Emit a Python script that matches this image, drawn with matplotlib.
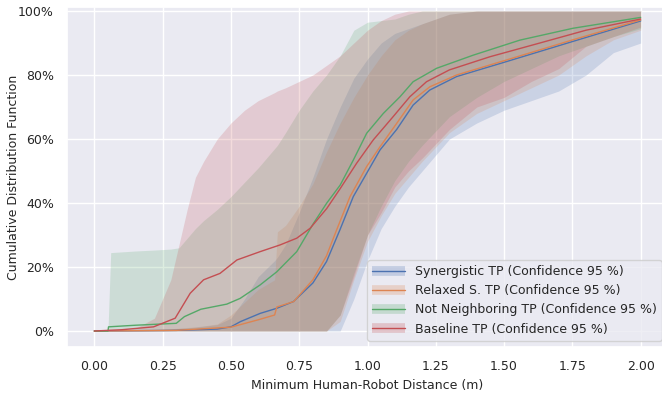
import numpy as np
import matplotlib
matplotlib.use("Agg")
import matplotlib.pyplot as plt
import seaborn as sns
from matplotlib.lines import Line2D
from matplotlib.ticker import PercentFormatter


# mean CDF curves per planner
syn_x = [0, 0.3, 0.45, 0.5, 0.534, 0.607, 0.668, 0.729, 0.8, 0.85, 0.899, 0.948, 0.997,
         1.046, 1.107, 1.167, 1.228, 1.326, 1.509, 1.752, 2.0]
syn_y = [0, 0.002, 0.006, 0.013, 0.029, 0.055, 0.071, 0.092, 0.15, 0.217, 0.316, 0.42, 0.493,
         0.566, 0.63, 0.706, 0.753, 0.795, 0.842, 0.905, 0.969]

rel_x = [0, 0.3, 0.5, 0.6, 0.66, 0.668, 0.73, 0.8, 0.85, 0.887, 0.936, 0.997,
         1.046, 1.107, 1.167, 1.228, 1.326, 1.509, 1.752, 2.0]
rel_y = [0, 0.002, 0.012, 0.035, 0.05, 0.075, 0.092, 0.16, 0.235, 0.316, 0.42, 0.514,
         0.576, 0.649, 0.722, 0.763, 0.80, 0.847, 0.91, 0.972]

nn_x = [0, 0.05, 0.052, 0.15, 0.3, 0.33, 0.39, 0.485, 0.534, 0.607, 0.668, 0.741, 0.802,
        0.851, 0.9, 0.948, 0.997, 1.058, 1.119, 1.167, 1.253, 1.387, 1.558, 1.752, 2.0]
nn_y = [0, 0, 0.013, 0.018, 0.024, 0.045, 0.068, 0.084, 0.102, 0.144, 0.185, 0.248, 0.336,
        0.4, 0.456, 0.534, 0.618, 0.68, 0.732, 0.779, 0.821, 0.862, 0.909, 0.946, 0.98]

base_x = [0, 0.1, 0.217, 0.296, 0.351, 0.40, 0.46, 0.522, 0.607, 0.68, 0.741, 0.79, 0.851,
          0.9, 0.96, 1.021, 1.094, 1.155, 1.216, 1.30, 1.448, 1.631, 1.80, 2.0]
base_y = [0, 0.004, 0.013, 0.04, 0.118, 0.16, 0.18, 0.222, 0.248, 0.269, 0.29, 0.321, 0.383,
          0.445, 0.524, 0.597, 0.67, 0.732, 0.779, 0.816, 0.857, 0.90, 0.94, 0.975]

# 95 % confidence bands, sampled on a shared distance grid
band_x = [0.0, 0.05, 0.06, 0.15, 0.22, 0.28, 0.31, 0.34, 0.37, 0.4, 0.45, 0.5, 0.55, 0.6,
          0.66, 0.67, 0.7, 0.75, 0.8, 0.85, 0.9, 0.95, 1.0, 1.05, 1.1, 1.15, 1.2, 1.3,
          1.4, 1.5, 1.6, 1.7, 1.8, 1.9, 2.0]

syn_lo = [0] * 21 + [0.1, 0.22, 0.32, 0.39, 0.45, 0.5, 0.6, 0.65, 0.69, 0.72, 0.75, 0.8, 0.87, 0.9]
syn_hi = [0, 0, 0, 0.002, 0.004, 0.006, 0.008, 0.01, 0.012, 0.015, 0.02, 0.04, 0.1, 0.17,
          0.22, 0.23, 0.27, 0.37, 0.48, 0.6, 0.7, 0.79, 0.85, 0.9, 0.93, 0.945, 0.96, 0.99,
          1, 1, 1, 1, 1, 1, 1]

rel_lo = [0] * 20 + [0.03, 0.16, 0.28, 0.36, 0.43, 0.48, 0.53, 0.62, 0.68, 0.72, 0.76, 0.8,
                     0.86, 0.91, 0.94]
rel_hi = [0, 0, 0, 0.003, 0.005, 0.007, 0.009, 0.011, 0.013, 0.016, 0.022, 0.05, 0.09, 0.13,
          0.16, 0.31, 0.33, 0.39, 0.46, 0.56, 0.65, 0.73, 0.8, 0.86, 0.91, 0.94, 0.96, 0.99,
          1, 1, 1, 1, 1, 1, 1]

nn_lo = [0] * 20 + [0.05, 0.18, 0.3, 0.39, 0.47, 0.53, 0.58, 0.67, 0.73, 0.78, 0.82, 0.86,
                    0.89, 0.92, 0.945]
nn_hi = [0, 0, 0.245, 0.25, 0.253, 0.256, 0.26, 0.29, 0.32, 0.345, 0.38, 0.42, 0.465, 0.51,
         0.57, 0.58, 0.62, 0.69, 0.75, 0.8, 0.86, 0.94, 0.965, 0.97, 0.975, 0.99, 1,
         1, 1, 1, 1, 1, 1, 1, 1]

base_lo = [0] * 20 + [0.05, 0.17, 0.3, 0.37, 0.45, 0.5, 0.54, 0.63, 0.7, 0.73, 0.78, 0.82,
                      0.89, 0.92, 0.95]
base_hi = [0, 0.002, 0.003, 0.008, 0.04, 0.16, 0.27, 0.38, 0.48, 0.53, 0.6, 0.65, 0.69,
           0.72, 0.745, 0.75, 0.76, 0.78, 0.8, 0.83, 0.86, 0.9, 0.94, 0.97, 0.99, 1, 1,
           1, 1, 1, 1, 1, 1, 1, 1]

labels = ["Synergistic TP (Confidence 95 %)", "Relaxed S. TP (Confidence 95 %)",
          "Not Neighboring TP (Confidence 95 %)", "Baseline TP (Confidence 95 %)"]

sns.set_theme(style="darkgrid")
colors = sns.color_palette("deep")

fig = plt.figure(figsize=(6.62, 4.0), dpi=100)
ax = fig.add_axes([67 / 662, 53 / 400, 601 / 662, 340 / 400])

series = [
    (syn_x, syn_y, syn_lo, syn_hi),
    (rel_x, rel_y, rel_lo, rel_hi),
    (nn_x, nn_y, nn_lo, nn_hi),
    (base_x, base_y, base_lo, base_hi),
]

handles = []
for i, (x, y, lo, hi) in enumerate(series):
    c = colors[i]
    ax.fill_between(band_x, lo, hi, color=c, alpha=0.2, linewidth=0)
    ax.plot(x, y, color=c, lw=1.0)
    band = Line2D([], [], color=c, lw=7, alpha=0.25, solid_capstyle="butt")
    line = Line2D([], [], color=c, lw=1.0)
    handles.append((band, line))

ax.set_xlim(-0.1, 2.1)
ax.set_ylim(-0.05, 1.0125)
ax.set_xticks(np.arange(0, 2.01, 0.25))
ax.set_yticks(np.arange(0, 1.01, 0.2))
ax.yaxis.set_major_formatter(PercentFormatter(1.0, decimals=0))
ax.tick_params(labelsize=9)

ax.set_xlabel("Minimum Human-Robot Distance (m)", fontsize=9)
ax.set_ylabel("Cumulative Distribution Function", fontsize=9)
ax.xaxis.set_label_coords(0.5, -0.094)
ax.yaxis.set_label_coords(-0.078, 0.5)

ax.legend(handles, labels, loc="lower right", fontsize=9, handlelength=2.6)

fig.savefig("out.png", dpi=100)
